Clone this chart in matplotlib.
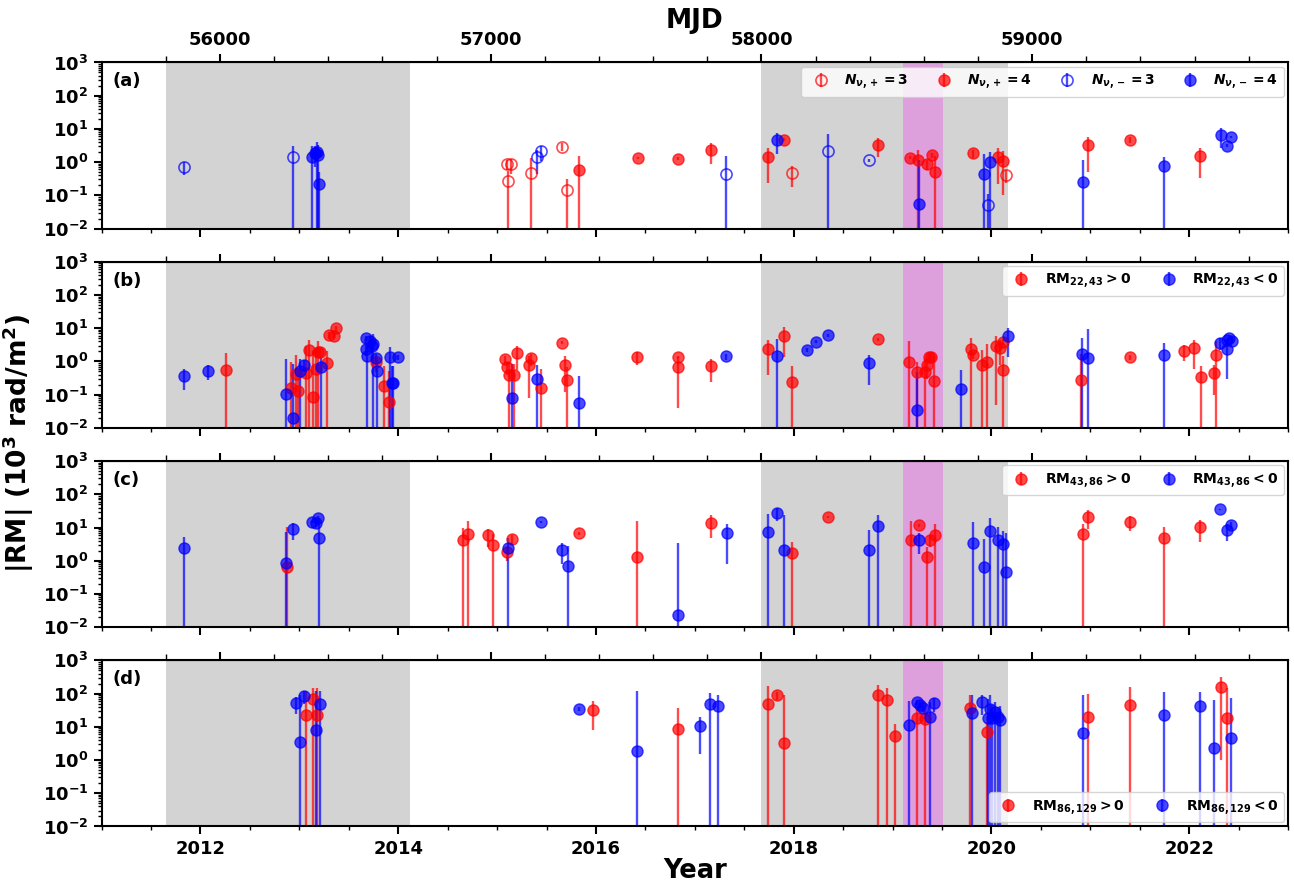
import numpy as np
import matplotlib
matplotlib.use("Agg")
import matplotlib.pyplot as plt
from matplotlib.ticker import MultipleLocator, LogLocator, FixedLocator

plt.rcParams['font.family'] = 'DejaVu Sans'
plt.rcParams['font.weight'] = 'bold'
plt.rcParams['mathtext.fontset'] = 'custom'
plt.rcParams['mathtext.rm'] = 'DejaVu Sans:bold'
plt.rcParams['mathtext.bf'] = 'DejaVu Sans:bold'
plt.rcParams['mathtext.it'] = 'DejaVu Sans:italic:bold'
plt.rcParams['mathtext.default'] = 'regular'

# ---- panel (a): RM from fits with N_nu = 3 / 4 ----
a_pos3_t = [2015.10, 2015.11, 2015.14, 2015.34, 2015.66, 2015.71, 2017.98, 2020.15]
a_pos3_v = [0.87, 0.27, 0.85, 0.46, 2.9, 0.14, 0.46, 0.40]
a_pos3_e = [0.3, 0.27, 0.4, 0.84, 0.8, 0.17, 0.28, 0.16]

a_pos4_t = [2015.83, 2016.43, 2016.83, 2017.16, 2017.74, 2017.90, 2018.85, 2019.18, 2019.26,
            2019.35, 2019.40, 2019.43, 2019.81, 2020.07, 2020.12, 2020.98, 2021.40, 2022.11]
a_pos4_v = [0.56, 1.3, 1.28, 2.3, 1.44, 4.7, 3.3, 1.35, 1.13,
            0.89, 1.6, 0.5, 1.87, 1.42, 1.1, 3.2, 4.7, 1.48]
a_pos4_e = [0.92, 0.1, 0.1, 1.4, 1.2, 0.5, 1.9, 0.15, 1.2,
            0.3, 0.3, 1.0, 0.5, 1.2, 1.0, 2.7, 1.0, 1.15]

a_neg3_t = [2011.83, 2012.94, 2015.40, 2015.44, 2017.32, 2018.35, 2018.76, 2019.97]
a_neg3_v = [0.70, 1.41, 1.39, 2.1, 0.44, 2.2, 1.12, 0.051]
a_neg3_e = [0.3, 1.55, 0.95, 1.0, 1.1, 4.7, 0.1, 0.06]

a_neg4_t = [2013.13, 2013.16, 2013.18, 2013.19, 2013.20, 2017.83, 2019.27, 2019.92, 2019.99,
            2020.93, 2021.75, 2022.32, 2022.38, 2022.42]
a_neg4_v = [1.4, 1.9, 2.0, 1.6, 0.22, 4.7, 0.055, 0.44, 0.98,
            0.26, 0.74, 6.6, 3.1, 5.8]
a_neg4_e = [1.6, 1.2, 2.0, 1.7, 0.3, 3.0, 1.1, 1.35, 1.0,
            0.9, 0.73, 3.9, 0.3, 0.5]

# ---- panel (b): RM_22,43 ----
b_pos_t = [2012.26, 2012.915, 2012.97, 2012.99, 2013.067, 2013.10, 2013.14, 2013.17, 2013.19,
           2013.21, 2013.28, 2013.30, 2013.35, 2013.37, 2013.78, 2013.86, 2013.91,
           2015.08, 2015.10, 2015.12, 2015.17, 2015.20, 2015.32, 2015.34, 2015.44, 2015.66,
           2015.69, 2015.71, 2016.42, 2016.83, 2016.83, 2017.16, 2017.74, 2017.90, 2017.98,
           2018.85, 2019.17, 2019.25, 2019.33, 2019.35, 2019.37, 2019.39, 2019.42, 2019.79,
           2019.81, 2019.90, 2019.96, 2020.05, 2020.09, 2020.12, 2020.12, 2020.91, 2021.40,
           2021.95, 2022.05, 2022.12, 2022.25, 2022.27]
b_pos_v = [0.55, 0.155, 0.42, 0.13, 0.44, 2.2, 0.083, 0.59, 1.86,
           1.9, 0.87, 6.3, 5.9, 10.0, 0.98, 0.18, 0.059,
           1.17, 0.69, 0.40, 0.40, 1.74, 0.78, 1.23, 0.16, 3.7,
           0.8, 0.28, 1.35, 1.38, 0.69, 0.72, 2.4, 6.0, 0.24,
           4.6, 0.93, 0.49, 0.49, 0.79, 1.32, 1.38, 0.25, 2.3,
           1.58, 0.78, 0.98, 2.95, 2.6, 3.9, 0.55, 0.28, 1.35,
           2.1, 2.5, 0.35, 0.45, 1.58]
b_pos_e = [1.3, 0.8, 1.1, 0.5, 2.5, 2.2, 2.0, 1.7, 2.3,
           0.5, 1.2, 1.5, 1.0, 1.5, 0.5, 0.56, 0.46,
           0.3, 0.3, 0.5, 0.45, 1.2, 0.7, 0.5, 0.43, 0.3,
           0.68, 0.38, 0.55, 0.1, 0.65, 0.48, 2.0, 4.6, 0.5,
           0.5, 3.3, 0.5, 0.68, 0.5, 0.3, 0.5, 1.2, 2.9,
           0.4, 1.5, 2.3, 2.9, 1.8, 0.8, 0.93, 1.4, 0.25,
           1.1, 1.9, 0.39, 0.35, 2.6]

b_neg_t = [2011.83, 2012.08, 2012.865, 2012.935, 2013.006, 2013.047, 2013.22, 2013.67, 2013.67,
           2013.68, 2013.71, 2013.73, 2013.75, 2013.775, 2013.79, 2013.92, 2013.94, 2013.945,
           2014.00, 2015.15, 2015.40, 2015.83, 2017.32, 2017.83, 2018.13, 2018.23, 2018.35,
           2018.76, 2019.25, 2019.69, 2020.17, 2020.92, 2020.98, 2021.75, 2022.31, 2022.38,
           2022.38, 2022.40, 2022.43]
b_neg_v = [0.355, 0.52, 0.105, 0.02, 0.52, 0.79, 0.66, 5.0, 2.3,
           1.48, 4.2, 3.0, 3.3, 1.26, 0.52, 1.32, 0.23, 0.22,
           1.32, 0.079, 0.30, 0.056, 1.41, 1.5, 2.2, 3.9, 6.2,
           0.89, 0.035, 0.148, 5.9, 1.66, 1.26, 1.55, 3.7, 2.3,
           4.3, 5.0, 4.2]
b_neg_e = [0.22, 0.25, 1.05, 0.8, 0.7, 0.3, 0.7, 1.0, 0.8,
           1.5, 1.5, 1.2, 3.3, 0.4, 0.6, 1.4, 0.5, 0.5,
           0.2, 0.75, 0.5, 0.31, 0.3, 3.2, 0.3, 0.4, 0.6,
           0.7, 0.45, 0.41, 4.5, 3.4, 8.0, 2.0, 1.5, 2.0,
           0.5, 0.6, 0.5]

# ---- panel (c): RM_43,86 ----
c_pos_t = [2012.88, 2014.66, 2014.71, 2014.91, 2014.96, 2015.10, 2015.15, 2015.83, 2016.42,
           2017.16, 2017.98, 2018.35, 2019.19, 2019.27, 2019.35, 2019.38, 2019.43, 2020.93,
           2020.98, 2021.40, 2021.75, 2022.11]
c_pos_v = [0.63, 4.2, 6.3, 5.9, 2.9, 1.8, 4.4, 6.6, 1.3,
           14.0, 1.66, 21.0, 4.2, 11.7, 1.3, 4.2, 6.0, 6.3,
           21.0, 15.0, 5.0, 10.5]
c_pos_e = [10.0, 5.3, 9.5, 3.3, 3.4, 0.8, 1.5, 0.5, 14.0,
           9.0, 1.9, 1.5, 12.0, 1.0, 1.3, 1.6, 6.6, 6.5,
           12.0, 7.0, 5.5, 6.9]

c_neg_t = [2011.83, 2012.87, 2012.94, 2013.13, 2013.17, 2013.19, 2013.20, 2015.11, 2015.44,
           2015.66, 2015.72, 2016.83, 2017.33, 2017.74, 2017.83, 2017.90, 2018.76, 2018.85,
           2019.27, 2019.81, 2019.92, 2019.99, 2020.07, 2020.12, 2020.15, 2022.31, 2022.38,
           2022.42]
c_neg_v = [2.5, 0.83, 9.1, 15.0, 13.5, 19.5, 4.7, 2.4, 14.8,
           2.1, 0.71, 0.024, 6.6, 7.4, 28.0, 2.1, 2.1, 11.0,
           4.2, 3.5, 0.65, 7.6, 4.2, 3.2, 0.45, 35.0, 8.3,
           12.0]
c_neg_e = [2.6, 6.5, 5.0, 1.0, 3.0, 2.0, 15.0, 2.5, 1.0,
           1.3, 2.0, 3.4, 5.8, 18.0, 12.0, 22.0, 6.2, 13.5,
           2.6, 11.5, 3.8, 12.0, 6.0, 4.8, 6.2, 1.0, 4.5,
           3.0]

# ---- panel (d): RM_86,129 ----
d_pos_t = [2013.07, 2013.14, 2013.18, 2015.97, 2016.83, 2017.74, 2017.83, 2017.90, 2018.85,
           2018.94, 2019.02, 2019.25, 2019.33, 2019.78, 2019.955, 2020.98, 2021.40, 2022.32,
           2022.38]
d_pos_v = [22.0, 71.0, 22.0, 33.0, 8.3, 49.0, 89.0, 3.2, 89.0,
           62.0, 5.4, 19.0, 16.6, 37.0, 6.9, 20.0, 46.0, 158.0,
           18.0]
d_pos_e = [95.0, 72.0, 123.0, 25.0, 29.0, 120.0, 25.0, 86.0, 97.0,
           86.0, 6.4, 20.0, 17.0, 54.0, 7.0, 75.0, 112.0, 157.0,
           130.0]

d_neg_t = [2012.97, 2013.01, 2013.05, 2013.17, 2013.21, 2015.83, 2016.42, 2017.05, 2017.15,
           2017.23, 2019.17, 2019.25, 2019.28, 2019.31, 2019.38, 2019.42, 2019.80, 2019.90,
           2019.966, 2019.99, 2020.01, 2020.04, 2020.07, 2020.09, 2020.93, 2021.75, 2022.11,
           2022.25, 2022.42]
d_neg_v = [53.0, 3.5, 82.0, 7.8, 47.0, 35.0, 1.9, 10.5, 47.0,
           42.0, 11.5, 55.0, 44.0, 36.0, 19.5, 51.0, 26.0, 55.0,
           18.6, 35.0, 18.0, 27.5, 19.5, 15.5, 6.6, 22.0, 42.0,
           2.3, 4.7]
d_neg_e = [28.0, 90.0, 35.0, 110.0, 70.0, 5.0, 116.0, 9.0, 58.0,
           51.0, 50.0, 10.0, 10.0, 8.0, 36.0, 24.0, 65.0, 33.0,
           50.0, 56.0, 26.0, 28.0, 21.0, 28.0, 82.0, 88.0, 71.0,
           60.0, 69.0]

# shaded intervals (decimal year)
gray_spans = [(2011.651, 2014.115), (2017.674, 2020.17)]
flare_span = (2019.11, 2019.51)

mjd_major = [56000, 57000, 58000, 59000]
mjd_minor = list(range(55800, 60000, 200))

RED = 'red'
BLUE = 'blue'


def yr2mjd(y):
    return 51544.5 + (np.asarray(y) - 2000.0) * 365.25


def mjd2yr(m):
    return 2000.0 + (np.asarray(m) - 51544.5) / 365.25


def eb(ax, t, v, e, color, label, filled=True):
    kw = dict(fmt='o', color=color, alpha=0.7, ms=8, elinewidth=1.7, capsize=0, label=label)
    if not filled:
        kw.update(mfc='none', mew=1.2)
    return ax.errorbar(t, v, yerr=e, **kw)


fig, axes = plt.subplots(4, 1, figsize=(12.94, 8.86), sharex=True)
plt.subplots_adjust(left=0.0785, right=0.9954, top=0.9295, bottom=0.0672, hspace=0.2)

for i, ax in enumerate(axes):
    ax.set_yscale('log')
    for s, e in gray_spans:
        ax.axvspan(s, e, color='lightgray', lw=0, zorder=0)
    ax.axvspan(flare_span[0], flare_span[1], color='plum', lw=0, zorder=0)
    ax.set_xlim(2011, 2023)
    ax.set_ylim(1e-2, 1e3)
    ax.yaxis.set_major_locator(LogLocator(base=10, numticks=10))
    ax.xaxis.set_major_locator(MultipleLocator(2))
    ax.xaxis.set_minor_locator(MultipleLocator(0.5))
    ax.tick_params(axis='both', which='major', labelsize=13, width=1.5, length=6)
    ax.tick_params(axis='both', which='minor', width=1.0, length=3)
    for sp in ax.spines.values():
        sp.set_linewidth(1.5)
    for lab in ax.get_xticklabels() + ax.get_yticklabels():
        lab.set_fontweight('bold')
    ax.text(0.009, 0.94, '(%s)' % 'abcd'[i], transform=ax.transAxes, va='top', ha='left',
            fontsize=13, fontweight='bold')

    sec = ax.secondary_xaxis('top', functions=(yr2mjd, mjd2yr))
    sec.xaxis.set_major_locator(FixedLocator(mjd_major))
    sec.xaxis.set_minor_locator(FixedLocator(mjd_minor))
    sec.tick_params(which='major', width=1.5, length=6, labelsize=13)
    sec.tick_params(which='minor', width=1.0, length=4)
    if i == 0:
        sec.set_xlabel('MJD', fontsize=19, fontweight='bold', labelpad=2)
        for lab in sec.get_xticklabels():
            lab.set_fontweight('bold')
    else:
        sec.tick_params(labeltop=False)

leg_kw = dict(fontsize=10, handletextpad=0.7, borderaxespad=0.3)

# panel (a)
ax = axes[0]
eb(ax, a_pos3_t, a_pos3_v, a_pos3_e, RED, r'$\mathit{N}_{\mathit{\nu},+}=3$', filled=False)
eb(ax, a_pos4_t, a_pos4_v, a_pos4_e, RED, r'$\mathit{N}_{\mathit{\nu},+}=4$')
eb(ax, a_neg3_t, a_neg3_v, a_neg3_e, BLUE, r'$\mathit{N}_{\mathit{\nu},-}=3$', filled=False)
eb(ax, a_neg4_t, a_neg4_v, a_neg4_e, BLUE, r'$\mathit{N}_{\mathit{\nu},-}=4$')
ax.legend(loc='upper right', ncol=4, columnspacing=1.5, **leg_kw)

# panel (b)
ax = axes[1]
eb(ax, b_pos_t, b_pos_v, b_pos_e, RED, r'$\mathrm{RM}_{22,43}>0$')
eb(ax, b_neg_t, b_neg_v, b_neg_e, BLUE, r'$\mathrm{RM}_{22,43}<0$')
ax.legend(loc='upper right', ncol=2, columnspacing=1.7, **leg_kw)

# panel (c)
ax = axes[2]
eb(ax, c_pos_t, c_pos_v, c_pos_e, RED, r'$\mathrm{RM}_{43,86}>0$')
eb(ax, c_neg_t, c_neg_v, c_neg_e, BLUE, r'$\mathrm{RM}_{43,86}<0$')
ax.legend(loc='upper right', ncol=2, columnspacing=1.7, **leg_kw)

# panel (d)
ax = axes[3]
eb(ax, d_pos_t, d_pos_v, d_pos_e, RED, r'$\mathrm{RM}_{86,129}>0$')
eb(ax, d_neg_t, d_neg_v, d_neg_e, BLUE, r'$\mathrm{RM}_{86,129}<0$')
ax.legend(loc='lower right', ncol=2, columnspacing=1.7, **leg_kw)
ax.set_xlabel('Year', fontsize=18.5, fontweight='bold', labelpad=0)
for lab in ax.get_xticklabels():
    lab.set_fontweight('bold')

fig.text(0.014, 0.5, r'|RM| (10$^3$ rad/m$^2$)', rotation=90, va='center', ha='center',
         fontsize=19, fontweight='bold')

fig.savefig('out.png', dpi=100)
